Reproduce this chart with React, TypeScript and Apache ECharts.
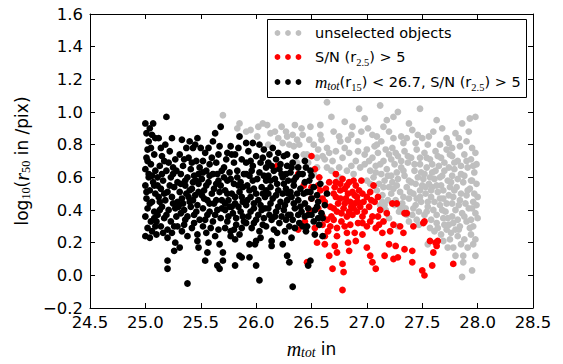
import React, { useEffect, useRef } from "react";
import * as echarts from "echarts";

// Axis ranges and tick steps
const xMin = 24.5;
const xMax = 28.5;
const xStep = 0.5;
const yMin = -0.2;
const yMax = 1.6;
const yStep = 0.2;

// Legend entries (rich-text markup) and their colours
const legendLabels = [
  "{n|unselected objects}",
  "{n|S/N (r}{s|2.5}{n|) > 5}",
  "{m|m}{st|tot}{n|(r}{s|15}{n|) < 26.7, S/N (r}{s|2.5}{n|) > 5}",
];
const legendColors = ["#bfbfbf", "#ff0000", "#000000"];

// Unselected objects: [m_tot, log10 r50]
const grayPts: [number, number][] = [
  [25.70, 0.98], [25.85, 0.93], [25.83, 0.90], [25.91, 0.88], [26.02, 0.91], [26.06, 0.93], [26.23, 0.91],
  [26.41, 0.90], [26.49, 0.91], [26.20, 0.84], [26.28, 0.85], [26.33, 0.86], [26.37, 0.83], [26.24, 0.81],
  [26.30, 0.80], [26.39, 0.80], [26.48, 0.83], [26.58, 0.86], [26.59, 0.83], [26.46, 0.74], [26.55, 0.72],
  [26.64, 0.78], [26.47, 0.69], [26.55, 0.66], [26.64, 0.66], [26.37, 0.69], [26.43, 0.74], [26.64, 1.06],
  [26.68, 0.97], [26.58, 0.92], [26.13, 0.87], [26.01, 0.85], [26.11, 0.80], [26.52, 0.62], [26.62, 0.71],
  [25.95, 0.89], [26.10, 0.92], [26.17, 0.88], [26.35, 0.92], [26.42, 0.86], [26.52, 0.80], [26.56, 0.77],
  [26.60, 0.73], [26.66, 0.75], [26.68, 0.64], [26.34, 0.79], [26.27, 0.88],
  [26.93, 1.02], [27.48, 1.02], [27.18, 0.95], [27.24, 0.97], [27.28, 1.00], [27.01, 0.90], [26.87, 0.91],
  [27.15, 0.91], [27.68, 0.90], [27.41, 0.89], [26.83, 0.83], [26.76, 0.82], [26.92, 0.82], [27.09, 0.85],
  [27.09, 0.80], [27.24, 0.84], [27.31, 0.85], [27.46, 0.86], [27.50, 0.84], [27.33, 0.81], [27.98, 0.97],
  [27.93, 0.96], [27.86, 0.93], [27.80, 0.87], [27.72, 0.84], [27.60, 0.88], [27.55, 0.80], [27.90, 0.82],
  [27.95, 0.78], [27.77, 0.78], [27.38, 0.93], [27.12, 1.04], [26.98, 0.96], [26.80, 0.94], [26.70, 0.88],
  [27.63, 0.95], [26.75, 0.85], [26.86, 0.86], [26.95, 0.88], [27.05, 0.86], [27.13, 0.82], [27.20, 0.88],
  [27.36, 0.84], [27.44, 0.81], [27.56, 0.85], [27.66, 0.80], [27.74, 0.81], [27.84, 0.79], [27.92, 0.88],
  [27.83, 0.84],
  [26.72, 0.76], [26.78, 0.72], [26.84, 0.75], [26.90, 0.70], [26.75, 0.66], [26.82, 0.64], [26.88, 0.62],
  [26.94, 0.66], [26.98, 0.74], [26.80, 0.78], [26.69, 0.70], [26.75, 0.60], [26.86, 0.67], [26.92, 0.76],
  [27.00, 0.77], [27.05, 0.72], [27.10, 0.75], [27.15, 0.70], [27.20, 0.74], [26.98, 0.68], [27.03, 0.64],
  [27.08, 0.67], [27.13, 0.62], [27.18, 0.65], [27.00, 0.58], [27.06, 0.60], [27.11, 0.56], [27.16, 0.58],
  [27.20, 0.54], [27.09, 0.52], [27.14, 0.49], [27.19, 0.46], [27.12, 0.43], [27.17, 0.40], [27.16, 0.43],
  [27.02, 0.70], [27.07, 0.79], [27.12, 0.68], [27.17, 0.77], [27.22, 0.71], [27.03, 0.56], [27.08, 0.63],
  [27.15, 0.54], [27.19, 0.61], [27.22, 0.50], [27.14, 0.45], [27.25, 0.43], [27.23, 0.57],
  [27.23, 0.78], [27.28, 0.73], [27.34, 0.76], [27.40, 0.72], [27.45, 0.77], [27.25, 0.68], [27.31, 0.66],
  [27.37, 0.69], [27.43, 0.64], [27.48, 0.68], [27.22, 0.61], [27.28, 0.59], [27.34, 0.61], [27.40, 0.57],
  [27.46, 0.60], [27.24, 0.53], [27.30, 0.51], [27.36, 0.54], [27.42, 0.50], [27.48, 0.52], [27.26, 0.46],
  [27.32, 0.44], [27.38, 0.47], [27.44, 0.43], [27.49, 0.45], [27.29, 0.39], [27.35, 0.41], [27.41, 0.37],
  [27.47, 0.39], [27.45, 0.34], [27.28, 0.30], [27.20, 0.35], [27.32, 0.39],
  [27.26, 0.75], [27.31, 0.70], [27.37, 0.73], [27.43, 0.68], [27.48, 0.72], [27.27, 0.63], [27.33, 0.64],
  [27.38, 0.58], [27.44, 0.56], [27.49, 0.63], [27.27, 0.55], [27.33, 0.48], [27.39, 0.51], [27.45, 0.47],
  [27.50, 0.55], [27.30, 0.42], [27.36, 0.37], [27.42, 0.41], [27.48, 0.48], [27.38, 0.33], [27.47, 0.31],
  [27.52, 0.75], [27.57, 0.71], [27.62, 0.76], [27.67, 0.72], [27.72, 0.77], [27.54, 0.66], [27.59, 0.63],
  [27.65, 0.67], [27.70, 0.64], [27.51, 0.59], [27.56, 0.56], [27.61, 0.59], [27.67, 0.55], [27.73, 0.58],
  [27.53, 0.50], [27.58, 0.48], [27.64, 0.51], [27.69, 0.47], [27.74, 0.49], [27.55, 0.42], [27.60, 0.40],
  [27.66, 0.43], [27.71, 0.39], [27.52, 0.37], [27.58, 0.34], [27.63, 0.32], [27.69, 0.35], [27.74, 0.31],
  [27.61, 0.27], [27.67, 0.25], [27.72, 0.28], [27.75, 0.22], [27.55, 0.19], [27.66, 0.60], [27.59, 0.54],
  [27.54, 0.72], [27.59, 0.68], [27.64, 0.73], [27.70, 0.69], [27.75, 0.74], [27.52, 0.62], [27.57, 0.60],
  [27.62, 0.64], [27.68, 0.61], [27.74, 0.66], [27.53, 0.54], [27.58, 0.52], [27.63, 0.55], [27.69, 0.52],
  [27.75, 0.54], [27.55, 0.45], [27.61, 0.45], [27.66, 0.47], [27.72, 0.44], [27.54, 0.39], [27.63, 0.37],
  [27.68, 0.40], [27.73, 0.35], [27.57, 0.29], [27.64, 0.29], [27.70, 0.31], [27.69, 0.21], [27.73, 0.17],
  [27.77, 0.73], [27.82, 0.70], [27.88, 0.74], [27.94, 0.71], [27.98, 0.75], [27.79, 0.65], [27.85, 0.62],
  [27.91, 0.66], [27.97, 0.63], [27.76, 0.57], [27.81, 0.54], [27.87, 0.57], [27.93, 0.53], [27.99, 0.56],
  [27.78, 0.48], [27.84, 0.46], [27.90, 0.49], [27.96, 0.45], [28.00, 0.48], [27.80, 0.40], [27.86, 0.38],
  [27.92, 0.41], [27.98, 0.38], [27.78, 0.32], [27.84, 0.30], [27.90, 0.33], [27.96, 0.30], [28.00, 0.35],
  [27.82, 0.24], [27.88, 0.22], [27.94, 0.25], [27.98, 0.22], [27.78, 0.17], [27.87, 0.12], [27.98, 0.12],
  [27.87, 0.08], [27.95, 0.03], [27.86, -0.01], [27.91, 0.17], [27.83, 0.28], [27.99, 0.68], [27.95, 0.58],
  [27.79, 0.69], [27.85, 0.67], [27.90, 0.70], [27.96, 0.67], [27.77, 0.61], [27.82, 0.59], [27.88, 0.61],
  [27.94, 0.58], [27.79, 0.52], [27.85, 0.50], [27.91, 0.52], [27.97, 0.50], [27.77, 0.44], [27.83, 0.43],
  [27.89, 0.44], [27.95, 0.41], [27.77, 0.36], [27.82, 0.34], [27.88, 0.36], [27.94, 0.34], [27.99, 0.43],
  [27.80, 0.28], [27.93, 0.29], [27.76, 0.26], [27.85, 0.19], [27.96, 0.19], [27.80, 0.12],
];

// S/N (r2.5) > 5
const redPts: [number, number][] = [
  [26.50, 0.73], [26.53, 0.65], [26.78, 0.59], [26.71, 0.54], [26.80, 0.53], [26.87, 0.51], [26.91, 0.48],
  [27.03, 0.51], [27.00, 0.48], [26.76, 0.47], [26.85, 0.45], [26.94, 0.42], [27.07, 0.45], [26.67, 0.42],
  [26.73, 0.39], [26.60, 0.36], [26.82, 0.36], [26.87, 0.37], [26.96, 0.36], [27.05, 0.36], [27.10, 0.36],
  [27.23, 0.44], [27.27, 0.44], [27.34, 0.38], [27.42, 0.30], [27.51, 0.32], [27.24, 0.31], [27.30, 0.30],
  [27.15, 0.33], [27.00, 0.30], [26.89, 0.26], [26.96, 0.25], [26.82, 0.26], [26.73, 0.29], [26.67, 0.30],
  [26.62, 0.24], [26.55, 0.20], [26.62, 0.19], [26.71, 0.18], [26.73, 0.14], [26.83, 0.20], [26.84, 0.15],
  [27.03, 0.12], [27.05, 0.08], [27.16, 0.12], [27.24, 0.10], [27.28, 0.11], [27.41, 0.15], [27.41, 0.08],
  [27.50, 0.03], [27.52, 0.00], [27.59, 0.06], [27.60, 0.14], [27.62, 0.20], [27.64, 0.21], [27.78, 0.07],
  [26.69, 0.04], [26.78, 0.07], [26.79, 0.02], [26.78, -0.09], [27.08, 0.04],
  [26.38, 0.28], [26.53, 0.29], [26.66, 0.12], [26.46, 0.08], [26.62, 0.45], [26.64, 0.34], [26.60, 0.31],
  [26.74, 0.44], [26.70, 0.50], [26.76, 0.52], [26.84, 0.57], [26.90, 0.55], [26.93, 0.52], [26.97, 0.45],
  [26.79, 0.41], [26.88, 0.41], [26.98, 0.39], [27.02, 0.42], [27.12, 0.40], [27.08, 0.29], [27.14, 0.26],
  [27.21, 0.27], [27.18, 0.38], [26.92, 0.32], [26.85, 0.31], [26.77, 0.33], [27.36, 0.38], [27.33, 0.26],
  [27.63, 0.18], [27.57, 0.21], [27.52, 0.33], [26.72, 0.62], [26.66, 0.57], [26.58, 0.52], [26.56, 0.41],
  [26.48, 0.40], [26.44, 0.33], [26.68, 0.36], [26.95, 0.58], [27.06, 0.55], [26.73, 0.24], [26.90, 0.21],
  [27.00, 0.17], [27.20, 0.19], [27.26, 0.18], [27.34, 0.16], [26.57, 0.60], [26.43, 0.55], [26.50, 0.47],
  [26.19, 0.67], [26.38, 0.62], [26.50, 0.54], [26.81, 0.47], [26.89, 0.44], [27.10, 0.48],
  [26.72, 0.57], [26.76, 0.56], [26.82, 0.55], [26.88, 0.58], [26.83, 0.50], [26.89, 0.49], [26.96, 0.50],
  [26.72, 0.48], [26.80, 0.44], [26.86, 0.42], [26.92, 0.45], [27.04, 0.46], [26.70, 0.41], [26.77, 0.38],
  [26.84, 0.39], [26.91, 0.39], [26.70, 0.34], [26.80, 0.30], [26.96, 0.32], [27.03, 0.33], [27.11, 0.31],
  [26.65, 0.27], [26.60, 0.47], [26.56, 0.55], [26.63, 0.53],
];

// m_tot(r15) < 26.7 and S/N (r2.5) > 5
const blackPts: [number, number][] = [
  [25.00, 0.93], [25.01, 0.87], [25.07, 0.93], [25.06, 0.86], [25.03, 0.82], [25.02, 0.77], [25.08, 0.74],
  [25.01, 0.72], [25.05, 0.68], [25.00, 0.65], [25.09, 0.64], [25.03, 0.60], [25.07, 0.57], [25.00, 0.55],
  [25.04, 0.52], [25.09, 0.50], [25.01, 0.47], [25.06, 0.45], [25.02, 0.41], [25.08, 0.39], [25.00, 0.36],
  [25.05, 0.33], [25.02, 0.29], [25.09, 0.30], [25.00, 0.24], [25.04, 0.23], [25.10, 0.25], [25.03, 0.62],
  [25.08, 0.55], [25.05, 0.78], [25.02, 0.70], [25.06, 0.61], [25.04, 0.44], [25.08, 0.35], [25.01, 0.51],
  [25.06, 0.27], [25.09, 0.84], [25.04, 0.90],
  [25.19, 0.97], [25.12, 0.84], [25.18, 0.80], [25.24, 0.84], [25.15, 0.73], [25.22, 0.76], [25.27, 0.71],
  [25.13, 0.67], [25.19, 0.64], [25.25, 0.66], [25.11, 0.60], [25.16, 0.58], [25.23, 0.60], [25.29, 0.57],
  [25.14, 0.53], [25.20, 0.51], [25.26, 0.54], [25.12, 0.48], [25.18, 0.46], [25.24, 0.48], [25.29, 0.45],
  [25.15, 0.42], [25.21, 0.40], [25.27, 0.41], [25.11, 0.37], [25.17, 0.35], [25.23, 0.33], [25.28, 0.36],
  [25.14, 0.30], [25.20, 0.28], [25.20, 0.23], [25.27, 0.20], [25.31, 0.17], [25.26, 0.15], [25.20, 0.09],
  [25.20, 0.04], [25.13, 0.45], [25.25, 0.62], [25.17, 0.70], [25.29, 0.30], [25.14, 0.78], [25.21, 0.69],
  [25.28, 0.64], [25.15, 0.62], [25.22, 0.55], [25.11, 0.55], [25.17, 0.50], [25.25, 0.44], [25.13, 0.40],
  [25.19, 0.37], [25.26, 0.30], [25.16, 0.26], [25.24, 0.26], [25.10, 0.33],
  [25.33, 0.83], [25.37, 0.78], [25.43, 0.78], [25.47, 0.84], [25.45, 0.80], [25.31, 0.74], [25.39, 0.72],
  [25.46, 0.70], [25.34, 0.67], [25.41, 0.65], [25.49, 0.66], [25.32, 0.62], [25.38, 0.60], [25.44, 0.61],
  [25.36, 0.55], [25.42, 0.53], [25.48, 0.56], [25.31, 0.51], [25.39, 0.48], [25.45, 0.49], [25.34, 0.44],
  [25.41, 0.42], [25.47, 0.43], [25.32, 0.38], [25.38, 0.36], [25.44, 0.37], [25.49, 0.34], [25.35, 0.31],
  [25.42, 0.29], [25.38, 0.24], [25.47, 0.25], [25.47, 0.21], [25.48, 0.17], [25.38, -0.05], [25.36, 0.58],
  [25.43, 0.46], [25.33, 0.27], [25.46, 0.58], [25.40, 0.52], [25.35, 0.40], [25.32, 0.56], [25.37, 0.50],
  [25.43, 0.57], [25.48, 0.51], [25.33, 0.47], [25.40, 0.45], [25.46, 0.39], [25.36, 0.34], [25.44, 0.32],
  [25.30, 0.42], [25.42, 0.69], [25.35, 0.71], [25.48, 0.62], [25.40, 0.82], [25.50, 0.78],
  [25.54, 0.75], [25.63, 0.87], [25.68, 0.91], [25.61, 0.82], [25.67, 0.79], [25.66, 0.74], [25.52, 0.70],
  [25.58, 0.68], [25.64, 0.69], [25.55, 0.64], [25.61, 0.62], [25.69, 0.64], [25.51, 0.59], [25.57, 0.57],
  [25.64, 0.56], [25.53, 0.52], [25.60, 0.50], [25.67, 0.51], [25.56, 0.46], [25.62, 0.44], [25.69, 0.46],
  [25.52, 0.41], [25.58, 0.39], [25.65, 0.40], [25.54, 0.34], [25.61, 0.33], [25.68, 0.35], [25.55, 0.26],
  [25.63, 0.24], [25.57, 0.20], [25.67, 0.19], [25.56, 0.14], [25.54, 0.09], [25.70, 0.14], [25.70, 0.09],
  [25.67, 0.04], [25.65, 0.06], [25.59, 0.29], [25.66, 0.58], [25.53, 0.47], [25.52, 0.63], [25.58, 0.61],
  [25.65, 0.62], [25.55, 0.55], [25.62, 0.53], [25.68, 0.55], [25.51, 0.49], [25.58, 0.44], [25.64, 0.46],
  [25.56, 0.37], [25.63, 0.37], [25.69, 0.41], [25.52, 0.30], [25.66, 0.28], [25.60, 0.72], [25.57, 0.78],
  [25.78, 0.74], [25.77, 0.79], [25.84, 0.78], [25.73, 0.71], [25.80, 0.69], [25.87, 0.71], [25.71, 0.66],
  [25.76, 0.63], [25.83, 0.64], [25.89, 0.62], [25.74, 0.58], [25.80, 0.56], [25.86, 0.57], [25.72, 0.52],
  [25.78, 0.50], [25.85, 0.51], [25.75, 0.46], [25.81, 0.44], [25.88, 0.45], [25.72, 0.40], [25.79, 0.38],
  [25.86, 0.39], [25.74, 0.33], [25.82, 0.31], [25.89, 0.33], [25.77, 0.24], [25.81, 0.22], [25.85, 0.25],
  [25.81, 0.06], [25.87, 0.11], [25.85, 0.12], [25.77, 0.27], [25.84, 0.55], [25.76, 0.42], [25.71, 0.60],
  [25.77, 0.59], [25.83, 0.60], [25.88, 0.54], [25.74, 0.50], [25.81, 0.48], [25.87, 0.48], [25.72, 0.44],
  [25.78, 0.42], [25.84, 0.42], [25.75, 0.36], [25.82, 0.35], [25.88, 0.36], [25.72, 0.29], [25.80, 0.28],
  [25.87, 0.29], [25.74, 0.75], [25.81, 0.74],
  [25.93, 0.76], [26.00, 0.73], [26.07, 0.77], [25.91, 0.69], [25.97, 0.67], [26.04, 0.69], [26.09, 0.66],
  [25.94, 0.61], [26.01, 0.59], [26.07, 0.61], [25.92, 0.55], [25.98, 0.53], [26.05, 0.54], [25.95, 0.48],
  [26.02, 0.46], [26.08, 0.48], [25.91, 0.43], [25.98, 0.41], [26.05, 0.40], [25.93, 0.36], [26.00, 0.34],
  [26.07, 0.35], [25.96, 0.29], [26.03, 0.27], [26.09, 0.30], [25.94, 0.19], [25.94, 0.11], [26.00, 0.06],
  [25.99, 0.19], [26.00, 0.21], [26.03, -0.03], [26.04, 0.23], [26.06, 0.50], [25.96, 0.64], [25.91, 0.62],
  [25.97, 0.58], [26.03, 0.63], [26.09, 0.58], [25.94, 0.52], [26.00, 0.50], [26.09, 0.52], [25.92, 0.46],
  [25.98, 0.44], [26.04, 0.43], [25.95, 0.39], [26.02, 0.37], [26.08, 0.41], [25.91, 0.32], [25.98, 0.32],
  [26.06, 0.31], [25.95, 0.70], [26.06, 0.72],
  [26.12, 0.74], [26.18, 0.71], [26.25, 0.73], [26.14, 0.67], [26.21, 0.65], [26.28, 0.67], [26.11, 0.61],
  [26.17, 0.59], [26.24, 0.60], [26.29, 0.58], [26.13, 0.54], [26.20, 0.52], [26.27, 0.53], [26.15, 0.47],
  [26.22, 0.45], [26.28, 0.46], [26.11, 0.41], [26.18, 0.39], [26.25, 0.40], [26.14, 0.34], [26.21, 0.32],
  [26.27, 0.34], [26.14, 0.21], [26.14, 0.18], [26.24, 0.19], [26.28, 0.12], [26.30, 0.08], [26.19, 0.26],
  [26.16, 0.28], [26.23, 0.62], [26.26, 0.27], [26.11, 0.69], [26.16, 0.64], [26.22, 0.68], [26.27, 0.62],
  [26.13, 0.58], [26.19, 0.56], [26.25, 0.56], [26.11, 0.50], [26.18, 0.49], [26.24, 0.50], [26.29, 0.50],
  [26.13, 0.44], [26.20, 0.42], [26.26, 0.43], [26.12, 0.37], [26.17, 0.36], [26.23, 0.36], [26.29, 0.37],
  [26.20, 0.75],
  [26.33, 0.69], [26.38, 0.66], [26.44, 0.70], [26.31, 0.63], [26.36, 0.60], [26.42, 0.62], [26.48, 0.58],
  [26.34, 0.55], [26.40, 0.53], [26.46, 0.51], [26.52, 0.54], [26.32, 0.48], [26.38, 0.46], [26.44, 0.44],
  [26.50, 0.47], [26.56, 0.45], [26.35, 0.41], [26.41, 0.39], [26.47, 0.37], [26.53, 0.40], [26.59, 0.38],
  [26.33, 0.34], [26.39, 0.32], [26.46, 0.30], [26.52, 0.33], [26.57, 0.31], [26.32, 0.23], [26.35, 0.29],
  [26.33, -0.07], [26.49, 0.09], [26.47, 0.06], [26.53, 0.25], [26.60, 0.24], [26.62, 0.43], [26.64, 0.50],
  [26.58, 0.56], [26.49, 0.64], [26.36, 0.73], [26.45, 0.27], [26.60, 0.35], [26.32, 0.66], [26.39, 0.62],
  [26.45, 0.66], [26.34, 0.58], [26.44, 0.57], [26.50, 0.61], [26.31, 0.51], [26.37, 0.50], [26.43, 0.50],
  [26.49, 0.51], [26.55, 0.49], [26.34, 0.44], [26.40, 0.42], [26.47, 0.41], [26.55, 0.42], [26.31, 0.37],
  [26.38, 0.37], [26.44, 0.36], [26.50, 0.37], [26.56, 0.35], [26.42, 0.30], [26.30, 0.30],
  [25.85, 0.85], [25.91, 0.81], [25.97, 0.81], [26.03, 0.80], [26.15, 0.78], [26.28, 0.74],
];

const FONT = "DejaVu Sans";
const SERIF = "Liberation Serif";

function richStyles(size: number) {
  return {
    n: { fontFamily: FONT, fontSize: size, lineHeight: 20, verticalAlign: "middle", color: "#000" },
    s: { fontFamily: SERIF, fontSize: size * 0.72, lineHeight: 10, verticalAlign: "bottom", color: "#000" },
    m: { fontFamily: SERIF, fontStyle: "italic", fontSize: size * 1.18, lineHeight: 20, verticalAlign: "middle", color: "#000" },
    st: { fontFamily: SERIF, fontStyle: "italic", fontSize: size * 0.8, lineHeight: 10, verticalAlign: "bottom", color: "#000" },
  };
}

const fmtY = (v: number) => (v < -1e-9 ? "\u2212" : "") + Math.abs(v).toFixed(1);
const fmtX = (v: number) => v.toFixed(1);

export default function App() {
  const ref = useRef<HTMLDivElement>(null);

  useEffect(() => {
    if (!ref.current) return;
    const chart = echarts.init(ref.current, undefined, { renderer: "svg" });

    const tickCommon = {
      axisLine: { show: true, onZero: false, lineStyle: { color: "#000", width: 1 } },
      axisTick: { show: true, inside: true, length: 5, lineStyle: { color: "#000", width: 1 } },
      splitLine: { show: false },
    };

    // Legend box drawn on top of the points
    const legendTop = 19.5;
    const rowYs = [33, 57, 82];
    const legendChildren: any[] = [
      {
        type: "rect",
        shape: { x: 267.5, y: legendTop, width: 259, height: 78 },
        style: { fill: "#fff", stroke: "#000", lineWidth: 1 },
      },
    ];
    legendLabels.forEach((label, i) => {
      [277.5, 288, 298.5].forEach((cx) => {
        legendChildren.push({
          type: "circle",
          shape: { cx, cy: rowYs[i], r: 2.9 },
          style: { fill: legendColors[i] },
        });
      });
      legendChildren.push({
        type: "text",
        x: 315,
        y: rowYs[i],
        style: {
          text: label,
          rich: richStyles(14.5),
          verticalAlign: "middle",
          align: "left",
        },
      });
    });

    const scatterBase = {
      type: "scatter",
      symbol: "circle",
      symbolSize: 6.8,
      xAxisIndex: 0,
      yAxisIndex: 0,
      emphasis: { disabled: true },
    };

    chart.setOption({
      animation: false,
      backgroundColor: "#fff",
      grid: { left: 90, right: 30, top: 14, bottom: 55 },
      xAxis: [
        {
          type: "value",
          min: xMin,
          max: xMax,
          interval: xStep,
          position: "bottom",
          ...tickCommon,
          axisLabel: {
            formatter: fmtX,
            fontFamily: FONT,
            fontSize: 16.5,
            color: "#000",
            margin: 6,
            showMinLabel: true,
            showMaxLabel: true,
          },
          name: "{m|m}{st|tot}{n| in}",
          nameLocation: "middle",
          nameGap: 31,
          nameTextStyle: { rich: richStyles(17) },
        },
        {
          type: "value",
          min: xMin,
          max: xMax,
          interval: xStep,
          position: "top",
          ...tickCommon,
          axisLabel: { show: false },
        },
      ],
      yAxis: [
        {
          type: "value",
          min: yMin,
          max: yMax,
          interval: yStep,
          position: "left",
          ...tickCommon,
          axisLabel: {
            formatter: fmtY,
            fontFamily: FONT,
            fontSize: 16.5,
            color: "#000",
            margin: 7,
            showMinLabel: true,
            showMaxLabel: true,
          },
          name: "{n|log}{s|10}{n|(}{m|r}{s|50}{n| in /pix)}",
          nameLocation: "middle",
          nameRotate: 90,
          nameGap: 58,
          nameTextStyle: { rich: richStyles(17) },
        },
        {
          type: "value",
          min: yMin,
          max: yMax,
          interval: yStep,
          position: "right",
          ...tickCommon,
          axisLabel: { show: false },
        },
      ],
      series: [
        { ...scatterBase, name: "unselected objects", data: grayPts, itemStyle: { color: legendColors[0], opacity: 1 } },
        { ...scatterBase, name: "S/N", data: redPts, itemStyle: { color: legendColors[1], opacity: 1 } },
        { ...scatterBase, name: "selected", data: blackPts, itemStyle: { color: legendColors[2], opacity: 1 } },
      ],
      graphic: [{ type: "group", z: 100, children: legendChildren }],
    });

    return () => chart.dispose();
  }, []);

  return (
    <div
      ref={ref}
      style={{ position: "fixed", left: 0, top: 0, width: 563, height: 364 }}
    />
  );
}
